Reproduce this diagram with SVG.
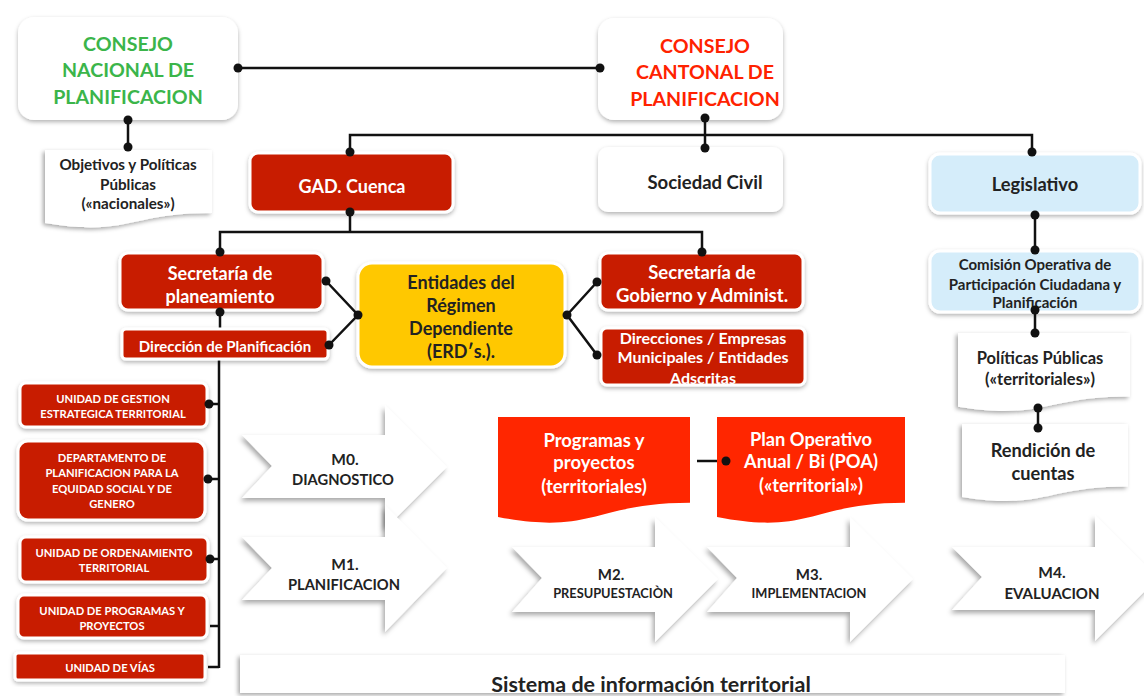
<svg xmlns="http://www.w3.org/2000/svg" width="1144" height="696" viewBox="0 0 1144 696">
<defs>
<filter id="sh" x="-10%" y="-15%" width="125%" height="140%"><feDropShadow dx="0" dy="2" stdDeviation="2" flood-color="#000" flood-opacity="0.3"/></filter>
<filter id="shd" x="-10%" y="-10%" width="125%" height="130%"><feDropShadow dx="-2" dy="2" stdDeviation="2" flood-color="#000" flood-opacity="0.35"/></filter>
<filter id="shc" x="-10%" y="-15%" width="125%" height="140%"><feDropShadow dx="-2" dy="3" stdDeviation="2.5" flood-color="#000" flood-opacity="0.35"/></filter>
<clipPath id="clipDir"><rect x="601" y="328" width="204" height="57" rx="6"/></clipPath>
<style>
text{font-family:Lato,"Liberation Sans",sans-serif;font-weight:bold;text-anchor:middle}
.w{fill:#fff}
.d{fill:#222}
.red{fill:#c81e00;stroke:#fff;stroke-width:3}
.wbox{fill:#fff}
.blue{fill:#d5edfa;stroke:#fff;stroke-width:3}
.doc{fill:#fff}
.rdoc{fill:#ff2600}
.chev{fill:#fff}
.ln{stroke:#111;stroke-width:2.5;fill:none}
.dot{fill:#111}
.u{font-size:11.2px}
</style>
</defs>
<rect width="1144" height="696" fill="#fff"/>

<g id="chevrons">
<path class="chev" filter="url(#shc)" d="M242,435 H385 V405 L447,467 L385,529 V498 H242 L272,466 Z"/>
<path class="chev" filter="url(#shc)" d="M242,537 H385 V505 L447,568 L385,632 V600 H242 L272,568 Z"/>
<path class="chev" filter="url(#shc)" d="M512,547 H655 V517 L718,579 L655,642 V612 H512 L542,578 Z"/>
<path class="chev" filter="url(#shc)" d="M707,547 H850 V517 L913,579 L850,642 V612 H707 L737,578 Z"/>
<path class="chev" filter="url(#shc)" d="M952,547 H1095 V515 L1158,578 L1095,641 V610 H952 L982,577 Z"/>
<text class="d" x="345" y="465" font-size="15.5">M0.</text>
<text class="d" x="343" y="485" font-size="14.7">DIAGNOSTICO</text>
<text class="d" x="345" y="570" font-size="15.5">M1.</text>
<text class="d" x="344" y="590" font-size="14.7">PLANIFICACION</text>
<text class="d" x="611" y="580" font-size="15">M2.</text>
<text class="d" x="613" y="598" font-size="12.8">PRESUPUESTACIÒN</text>
<text class="d" x="809" y="580" font-size="15">M3.</text>
<text class="d" x="809" y="598" font-size="12.8">IMPLEMENTACION</text>
<text class="d" x="1052" y="578" font-size="15.5">M4.</text>
<text class="d" x="1052" y="599" font-size="15">EVALUACION</text>
</g>

<g id="sistema">
<rect x="240" y="655" width="825" height="38" fill="#fff" filter="url(#shd)"/>
<text class="d" x="651" y="692" font-size="21.5">Sistema de información territorial</text>
</g>

<g id="connectors">
<line class="ln" x1="238" y1="68" x2="600" y2="68"/>
<line class="ln" x1="128" y1="120" x2="128" y2="147"/>
<line class="ln" x1="705" y1="118" x2="705" y2="148"/>
<polyline class="ln" points="350,152 350,135 1032,135 1032,152"/>
<polyline class="ln" points="350,212 350,232"/>
<polyline class="ln" points="220,252 220,232 702,232 702,252"/>
<line class="ln" x1="220" y1="312" x2="220" y2="329"/>
<line class="ln" x1="219" y1="359" x2="219" y2="668"/>
<line class="ln" x1="207" y1="404" x2="219" y2="404"/>
<line class="ln" x1="206" y1="479" x2="219" y2="479"/>
<line class="ln" x1="208" y1="559" x2="219" y2="559"/>
<line class="ln" x1="210" y1="626" x2="219" y2="626"/>
<line class="ln" x1="208" y1="667" x2="219" y2="667"/>
<polyline class="ln" points="326,281 358,315 329,345"/>
<polyline class="ln" points="597,282 567,315 597,355"/>
<line class="ln" x1="1035" y1="215" x2="1035" y2="250"/>
<line class="ln" x1="1035" y1="310" x2="1035" y2="333"/>
<line class="ln" x1="1038" y1="408" x2="1038" y2="428"/>
<line class="ln" x1="697" y1="461" x2="726" y2="461"/>
</g>

<g id="n_cnp">
<rect x="18" y="17" width="220" height="103" rx="16" class="wbox" filter="url(#sh)"/>
<text x="128" y="51" font-size="19.6" fill="#3bb54a">CONSEJO</text>
<text x="128" y="77" font-size="19.6" fill="#3bb54a">NACIONAL DE</text>
<text x="128" y="104" font-size="19.6" fill="#3bb54a">PLANIFICACION</text>
</g>
<g id="n_ccp">
<rect x="598" y="18" width="185" height="102" rx="16" class="wbox" filter="url(#sh)"/>
<text x="705" y="53" font-size="19.6" fill="#ff2200">CONSEJO</text>
<text x="705" y="79" font-size="19.6" fill="#ff2200">CANTONAL DE</text>
<text x="705" y="106" font-size="19.6" fill="#ff2200">PLANIFICACION</text>
</g>
<g id="n_objetivos">
<path class="doc" filter="url(#shd)" d="M45,150 H212 V213 C128.5,213 128.5,237 45,223 Z"/>
<text class="d" x="128" y="170" font-size="15.2">Objetivos y Políticas</text>
<text class="d" x="128" y="190" font-size="15.2">Públicas</text>
<text class="d" x="128" y="209" font-size="15.2">(«nacionales»)</text>
</g>
<g id="n_gad">
<rect x="250" y="153" width="203" height="59" rx="8" class="red" filter="url(#sh)"/>
<text class="w" x="352" y="193" font-size="18">GAD. Cuenca</text>
</g>
<g id="n_sociedad">
<rect x="598" y="147" width="185" height="65" rx="10" class="wbox" filter="url(#sh)"/>
<text class="d" x="705" y="189" font-size="18.5">Sociedad Civil</text>
</g>
<g id="n_legislativo">
<rect x="930" y="154" width="210" height="59" rx="10" class="blue" filter="url(#sh)"/>
<text class="d" x="1035" y="191" font-size="18.3">Legislativo</text>
</g>
<g id="n_secplan">
<rect x="120" y="253" width="203" height="57" rx="8" class="red" filter="url(#sh)"/>
<text class="w" x="220" y="280" font-size="18">Secretaría de</text>
<text class="w" x="220" y="303" font-size="18">planeamiento</text>
</g>
<g id="n_direccion">
<rect x="122" y="329" width="206" height="30" rx="4" class="red" filter="url(#sh)"/>
<text class="w" x="225" y="352" font-size="15">Dirección de Planificación</text>
</g>
<g id="n_u1">
<rect x="20" y="383" width="187" height="44" rx="6" class="red" filter="url(#sh)"/>
<text class="w u" x="113" y="403">UNIDAD DE GESTION</text>
<text class="w u" x="113" y="418">ESTRATEGICA TERRITORIAL</text>
</g>
<g id="n_u2">
<rect x="18" y="441" width="187" height="79" rx="10" class="red" filter="url(#sh)"/>
<text class="w u" x="112" y="462">DEPARTAMENTO DE</text>
<text class="w u" x="112" y="477">PLANIFICACION PARA LA</text>
<text class="w u" x="112" y="493">EQUIDAD SOCIAL Y DE</text>
<text class="w u" x="112" y="508">GENERO</text>
</g>
<g id="n_u3">
<rect x="20" y="537" width="188" height="45" rx="6" class="red" filter="url(#sh)"/>
<text class="w u" x="114" y="557">UNIDAD DE ORDENAMIENTO</text>
<text class="w u" x="114" y="572">TERRITORIAL</text>
</g>
<g id="n_u4">
<rect x="18" y="595" width="189" height="43" rx="6" class="red" filter="url(#sh)"/>
<text class="w u" x="112" y="615">UNIDAD DE PROGRAMAS Y</text>
<text class="w u" x="112" y="630">PROYECTOS</text>
</g>
<g id="n_u5">
<rect x="15" y="653" width="190" height="27" rx="3" class="red" filter="url(#sh)"/>
<text class="w u" x="110" y="672">UNIDAD DE VÍAS</text>
</g>
<g id="n_erd">
<rect x="358" y="263" width="207" height="104" rx="14" fill="#ffc800" stroke="#fff" stroke-width="3" filter="url(#sh)"/>
<text class="d" x="461" y="289" font-size="18">Entidades del</text>
<text class="d" x="461" y="312" font-size="18">Régimen</text>
<text class="d" x="461" y="335" font-size="18">Dependiente</text>
<text class="d" x="461" y="358" font-size="18">(ERDʹs.).</text>
</g>
<g id="n_secgob">
<rect x="600" y="253" width="203" height="57" rx="8" class="red" filter="url(#sh)"/>
<text class="w" x="702" y="279" font-size="18.5">Secretaría de</text>
<text class="w" x="702" y="302" font-size="18.5">Gobierno y Administ.</text>
</g>
<g id="n_direcciones">
<rect x="601" y="328" width="204" height="57" rx="6" class="red" filter="url(#sh)"/>
<g clip-path="url(#clipDir)">
<text class="w" x="703" y="344" font-size="16">Direcciones / Empresas</text>
<text class="w" x="703" y="363" font-size="16">Municipales / Entidades</text>
<text class="w" x="703" y="384" font-size="16">Adscritas</text>
</g>
</g>
<g id="n_comision">
<rect x="930" y="251" width="210" height="61" rx="10" class="blue" filter="url(#sh)"/>
<text class="d" x="1035" y="270" font-size="15">Comisión Operativa de</text>
<text class="d" x="1035" y="290" font-size="15">Participación Ciudadana y</text>
<text class="d" x="1035" y="308" font-size="15">Planificación</text>
</g>
<g id="n_politicas">
<path class="doc" filter="url(#shd)" d="M958,333 H1130 V396.4 C1044,396.4 1044,420.5 958,406.8 Z"/>
<text class="d" x="1040" y="364" font-size="16.5">Políticas Públicas</text>
<text class="d" x="1040" y="385" font-size="16.5">(«territoriales»)</text>
</g>
<g id="n_rendicion">
<path class="doc" filter="url(#shd)" d="M962,424 H1128 V486.6 C1045,486.6 1045,510.3 962,496.9 Z"/>
<text class="d" x="1043" y="457" font-size="18.2">Rendición de</text>
<text class="d" x="1043" y="480" font-size="18.2">cuentas</text>
</g>
<g id="n_programas">
<path class="rdoc" d="M498,417 H690 V502.8 C594,502.8 594,535.4 498,517 Z"/>
<text class="w" x="594" y="447" font-size="18.5">Programas y</text>
<text class="w" x="594" y="469" font-size="18.5">proyectos</text>
<text class="w" x="594" y="493" font-size="18.5">(territoriales)</text>
</g>
<g id="n_poa">
<path class="rdoc" d="M717,417 H905 V502.8 C811,502.8 811,535.4 717,517 Z"/>
<text class="w" x="811" y="446" font-size="18.3">Plan Operativo</text>
<text class="w" x="811" y="468" font-size="18.3">Anual / Bi (POA)</text>
<text class="w" x="811" y="492" font-size="18.3">(«territorial»)</text>
</g>

<g id="dots">
<circle class="dot" cx="238" cy="68" r="4.5"/>
<circle class="dot" cx="600" cy="68" r="4.5"/>
<circle class="dot" cx="128" cy="120" r="4.5"/>
<circle class="dot" cx="128" cy="147" r="4.5"/>
<circle class="dot" cx="705" cy="118" r="4.5"/>
<circle class="dot" cx="705" cy="148" r="4.5"/>
<circle class="dot" cx="350" cy="152" r="4.5"/>
<circle class="dot" cx="1032" cy="152" r="4.5"/>
<circle class="dot" cx="350" cy="212" r="4.5"/>
<circle class="dot" cx="220" cy="252" r="4.5"/>
<circle class="dot" cx="702" cy="252" r="4.5"/>
<circle class="dot" cx="220" cy="312" r="4.5"/>
<circle class="dot" cx="209" cy="404" r="4.5"/>
<circle class="dot" cx="208" cy="479" r="4.5"/>
<circle class="dot" cx="210" cy="559" r="4.5"/>
<circle class="dot" cx="326" cy="281" r="4.5"/>
<circle class="dot" cx="329" cy="345" r="4.5"/>
<circle class="dot" cx="358" cy="315" r="4.5"/>
<circle class="dot" cx="567" cy="315" r="4.5"/>
<circle class="dot" cx="597" cy="282" r="4.5"/>
<circle class="dot" cx="597" cy="355" r="4.5"/>
<circle class="dot" cx="1035" cy="215" r="4.5"/>
<circle class="dot" cx="1035" cy="250" r="4.5"/>
<circle class="dot" cx="1035" cy="310" r="4.5"/>
<circle class="dot" cx="1035" cy="333" r="4.5"/>
<circle class="dot" cx="1038" cy="408" r="4.5"/>
<circle class="dot" cx="1038" cy="428" r="4.5"/>
<circle class="dot" cx="726" cy="461" r="4.5"/>
</g>
</svg>
